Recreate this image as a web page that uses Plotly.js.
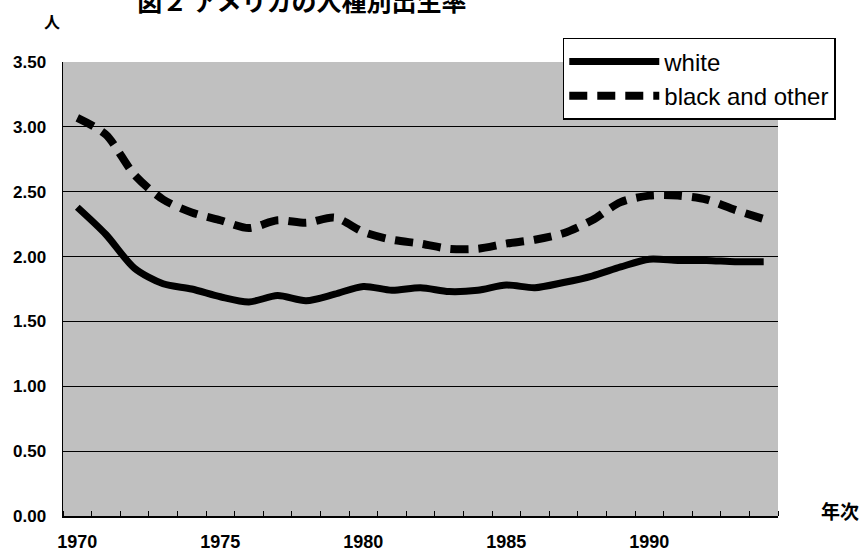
<!DOCTYPE html>
<html>
<head>
<meta charset="utf-8">
<script src="https://cdn.plot.ly/plotly-3.0.1.min.js"></script>
<style>html,body{margin:0;padding:0;background:#fff;}#chart{width:865px;height:556px;}</style>
</head>
<body>
<div id="chart"></div>
<script>
const years = [1970,1971,1972,1973,1974,1975,1976,1977,1978,1979,1980,1981,1982,1983,1984,1985,1986,1987,1988,1989,1990,1991,1992,1993,1994];
const white = [2.38,2.17,1.91,1.79,1.75,1.69,1.65,1.70,1.66,1.71,1.77,1.74,1.76,1.73,1.74,1.78,1.76,1.80,1.85,1.92,1.98,1.97,1.97,1.96,1.96];
const blackOther = [3.07,2.94,2.63,2.44,2.34,2.28,2.22,2.28,2.26,2.30,2.19,2.13,2.10,2.06,2.06,2.10,2.13,2.18,2.28,2.42,2.47,2.47,2.44,2.36,2.29];
const xLabels = [1970,1975,1980,1985,1990];
const yTicks = [0,0.5,1,1.5,2,2.5,3,3.5];

const traces = [
  {x: years, y: white, name: 'white', type: 'scatter', mode: 'lines',
   line: {color: '#000', width: 7, shape: 'spline', smoothing: 0.8}},
  {x: years, y: blackOther, name: 'black and other', type: 'scatter', mode: 'lines',
   line: {color: '#000', width: 8, shape: 'spline', smoothing: 0.8, dash: '18px,10px'}}
];

const layout = {
  width: 865, height: 556,
  margin: {l: 63, r: 87, t: 62, b: 40},
  paper_bgcolor: '#fff',
  plot_bgcolor: '#c0c0c0',
  font: {family: 'Liberation Sans, Arial, sans-serif', color: '#000'},
  title: {text: '<b>図２ アメリカの人種別出生率</b>', font: {family: 'Noto Sans CJK JP', size: 25, color: '#000'},
          xref: 'container', yref: 'container', x: 0.349, xanchor: 'center', y: 0.9964, yanchor: 'middle'},
  xaxis: {range: [1969.5, 1994.5], tickmode: 'array', tickvals: xLabels, ticktext: xLabels.map(String),
          ticks: '', showgrid: false, zeroline: false, showline: true, linecolor: '#000', linewidth: 2,
          ticklabelstandoff: 8, tickfont: {size: 18, family: 'Liberation Sans', weight: 'bold'},
          minor: {ticks: 'inside', ticklen: 5, tickwidth: 1, tickcolor: '#000', tick0: 1969.5, dtick: 1, showgrid: false}},
  yaxis: {range: [0, 3.5], tickmode: 'array', tickvals: yTicks, tickformat: '.2f',
          ticks: '', showgrid: true, gridcolor: '#000', gridwidth: 1, zeroline: false,
          showline: true, linecolor: '#000', linewidth: 1.5, ticklabelstandoff: 12,
          tickfont: {size: 17, family: 'Liberation Sans', weight: 'bold'}},
  showlegend: true,
  legend: {x: 0.699, y: 1.053, xanchor: 'left', yanchor: 'top', bgcolor: '#fff', bordercolor: '#000', borderwidth: 1.5,
           font: {size: 24, family: 'Liberation Sans'}, tracegroupgap: 0, itemwidth: 90},
  annotations: [
    {text: '<b>人</b>', xref: 'paper', yref: 'paper', x: -0.0154, y: 1.090, xanchor: 'center', yanchor: 'middle', showarrow: false,
     font: {family: 'Noto Sans CJK JP', size: 16}},
    {text: '<b>年次</b>', xref: 'paper', yref: 'paper', x: 1.0867, y: 0.013, xanchor: 'center', yanchor: 'middle', showarrow: false,
     font: {family: 'Noto Sans CJK JP', size: 19}}
  ]
};

Plotly.newPlot('chart', traces, layout, {displayModeBar: false, staticPlot: true});
</script>
</body>
</html>
